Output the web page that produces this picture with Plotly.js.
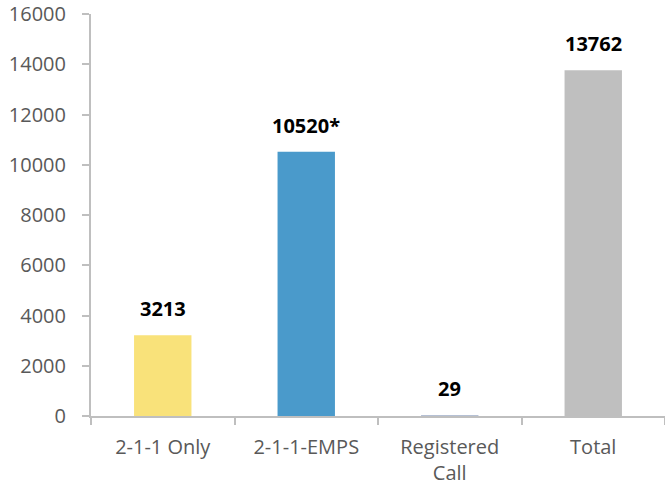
<!DOCTYPE html>
<html>
<head>
<meta charset="utf-8">
<script src="https://cdn.plot.ly/plotly-3.0.1.min.js"></script>
<style>html,body{margin:0;padding:0;background:#fff;}#chart{width:665px;height:492px;}</style>
</head>
<body>
<div id="chart"></div>
<script>
const categories = ["2-1-1 Only", "2-1-1-EMPS", "Registered<br>Call", "Total"];
const values = [3213, 10520, 29, 13762];
const valueLabels = ["3213", "10520*", "29", "13762"];
const barColors = ["#F9E27A", "#4A9ACB", "#9DABC6", "#BFBFBF"];
const yTicks = [0, 2000, 4000, 6000, 8000, 10000, 12000, 14000, 16000];

const trace = {
  type: "bar",
  x: categories,
  y: values,
  marker: {color: barColors},
  hoverinfo: "none"
};

const annotations = categories.map((c, i) => ({
  x: c, y: values[i], xref: "x", yref: "y",
  text: valueLabels[i], showarrow: false,
  yanchor: "bottom", yshift: 11,
  font: {family: "'Open Sans', sans-serif", size: 20, color: "#000", weight: "bold"}
}));

const layout = {
  width: 665, height: 492,
  margin: {l: 91, r: 0, t: 14, b: 76},
  paper_bgcolor: "#fff", plot_bgcolor: "#fff",
  bargap: 0.6,
  showlegend: false,
  font: {family: "'Open Sans', sans-serif", size: 20, color: "#595959"},
  xaxis: {
    type: "category",
    showline: true, linecolor: "#BFBFBF", linewidth: 2,
    ticks: "outside", tickson: "boundaries", ticklen: 7, tickcolor: "#BFBFBF", tickwidth: 2,
    showgrid: false, zeroline: false,
    ticklabelstandoff: 12,
    tickfont: {size: 20, color: "#595959"}
  },
  yaxis: {
    range: [0, 16000],
    tickvals: yTicks,
    ticktext: yTicks.map(String),
    showline: true, linecolor: "#BFBFBF", linewidth: 2,
    ticks: "outside", ticklen: 7, tickcolor: "#BFBFBF", tickwidth: 2,
    showgrid: false, zeroline: false,
    ticklabelstandoff: 12,
    tickfont: {size: 20, color: "#595959"}
  },
  annotations: annotations
};

Plotly.newPlot("chart", [trace], layout, {staticPlot: true, displayModeBar: false});
</script>
</body>
</html>
